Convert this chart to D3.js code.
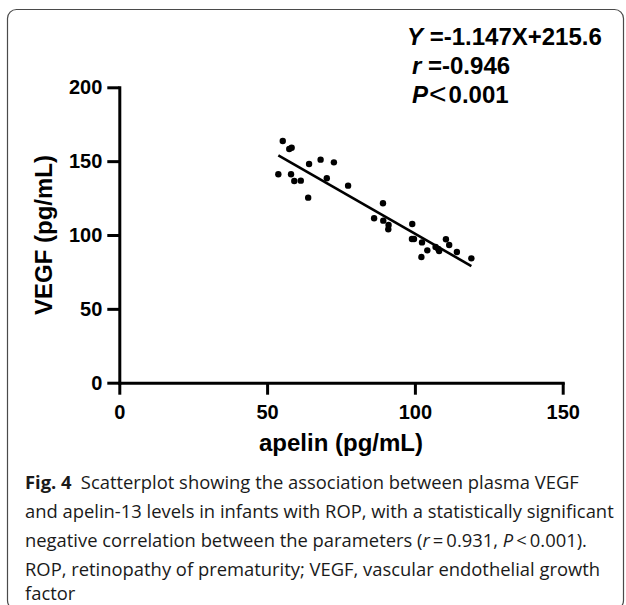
<!DOCTYPE html>
<html><head><meta charset="utf-8">
<script src="https://cdn.jsdelivr.net/npm/d3@7"></script>
<style>body{margin:0;background:#fff;overflow:hidden}</style>
</head><body>
<svg id="c" width="626" height="605"></svg>
<script>
// ---- data ----
const apelin = [55.3, 57.5, 58.3, 53.8, 58.1, 59.2, 61.4, 63.9, 64.2, 68.1, 72.6, 70.2, 77.4,
                86.2, 89.2, 89.3, 91.1, 91.0, 99.1, 99.0, 99.7, 102.4, 102.2, 104.2,
                107.0, 107.9, 108.2, 110.5, 111.6, 114.2, 119.1];
const vegf   = [163.6, 158.2, 159.1, 141.1, 141.1, 136.6, 136.8, 125.3, 148.1, 151.0, 149.2, 138.4, 133.4,
                111.3, 121.5, 109.7, 106.8, 103.9, 107.4, 97.3, 97.3, 95.0, 85.1, 89.6,
                91.9, 90.5, 89.2, 97.1, 93.2, 88.5, 84.2];
const xTicks = [0, 50, 100, 150];
const yTicks = [0, 50, 100, 150, 200];
const fitCoefficients = [-1.147, 215.6]; // slope, intercept
const statsLines = [
  [["Y", "i"], [" =-1.147X+215.6", ""]],
  [["r", "i"], [" =-0.946", ""]],
  [["P", "i"], ["<", "lt"], ["0.001", "after"]]
];
const xLabel = "apelin (pg/mL)";
const yLabel = "VEGF (pg/mL)";
const captionLines = [
  [["Fig. 4", "b"], ["\u2002Scatterplot showing the association between plasma VEGF", ""]],
  [["and apelin-13 levels in infants with ROP, with a statistically significant", ""]],
  [["negative correlation between the parameters (", ""], ["r", "i"], ["\u2009=\u20090.931, ", ""], ["P", "i"], ["\u2009<\u20090.001).", ""]],
  [["ROP, retinopathy of prematurity; VEGF, vascular endothelial growth", ""]],
  [["factor", ""]]
];

// ---- drawing ----
const svg = d3.select("#c");
const AX = "'Liberation Sans', Arial, Helvetica, sans-serif";

svg.append("rect").attr("x", 7.5).attr("y", 9.5).attr("width", 616).attr("height", 600)
  .attr("rx", 9).attr("fill", "none").attr("stroke", "#4a4a4a").attr("stroke-width", 1.2);

const x = d3.scaleLinear().domain([0, 150]).range([119.3, 562.7]);
const y = d3.scaleLinear().domain([0, 200]).range([382.7, 87.3]);

const gx = svg.append("g").attr("transform", `translate(0,${y(0)})`)
  .call(d3.axisBottom(x).tickValues(xTicks).tickFormat(d3.format("d")).tickSize(12).tickSizeOuter(0).tickPadding(10));
const gy = svg.append("g").attr("transform", `translate(${x(0)},0)`)
  .call(d3.axisLeft(y).tickValues(yTicks).tickFormat(d3.format("d")).tickSize(12).tickSizeOuter(0).tickPadding(5));
[gx, gy].forEach(g => {
  g.select(".domain").attr("stroke", "#000").attr("stroke-width", 3).attr("stroke-linecap", "square");
  g.selectAll(".tick line").attr("stroke", "#000").attr("stroke-width", 3);
  g.selectAll(".tick text").attr("fill", "#000").style("font-family", AX)
    .style("font-size", "20px").style("font-weight", "bold");
});

// regression line
const xr = d3.extent(apelin);
svg.append("line")
  .attr("x1", x(xr[0])).attr("y1", y(fitCoefficients[0] * xr[0] + fitCoefficients[1]))
  .attr("x2", x(xr[1])).attr("y2", y(fitCoefficients[0] * xr[1] + fitCoefficients[1]))
  .attr("stroke", "#000").attr("stroke-width", 2.6);

// points
svg.append("g").selectAll("circle").data(apelin.map((a, i) => [a, vegf[i]])).join("circle")
  .attr("cx", d => x(d[0])).attr("cy", d => y(d[1])).attr("r", 3.2).attr("fill", "#000");

// axis titles
svg.append("text").attr("x", (x(0) + x(150)) / 2).attr("y", 451).attr("text-anchor", "middle")
  .style("font-family", AX).style("font-size", "24px").style("font-weight", "bold").text(xLabel);
svg.append("text").attr("transform", `translate(52,${(y(0) + y(200)) / 2}) rotate(-90)`).attr("text-anchor", "middle")
  .style("font-family", AX).style("font-size", "24px").style("font-weight", "bold").text(yLabel);

// stats annotation
const statsX = [407, 412, 412], statsY = [45, 74, 103];
statsLines.forEach((parts, i) => {
  const t = svg.append("text").attr("x", statsX[i]).attr("y", statsY[i])
    .style("font-family", AX).style("font-size", "24px").style("font-weight", "bold");
  parts.forEach(([s, k]) => {
    const ts = t.append("tspan").text(s);
    if (k === "i") ts.style("font-style", "italic");
    if (k === "lt") ts.style("font-weight", "normal").style("font-size", "30px").attr("dx", 1).attr("dy", 1);
    if (k === "after") ts.attr("dx", 2).attr("dy", -1);
  });
});

// caption
const capY = [489, 518, 547, 575.5, 599.5];
const capFont = "'Open Sans', 'Noto Sans', sans-serif";
const capNodes = captionLines.map((parts, i) => {
  const t = svg.append("text").attr("x", 0).attr("y", 0)
    .style("font-family", capFont).style("font-size", "18px").attr("fill", "#1a1a1a");
  parts.forEach(([s, k]) => {
    const ts = t.append("tspan").text(s);
    if (k === "b") ts.style("font-weight", "bold");
    if (k === "i") ts.style("font-style", "italic");
  });
  return t;
});
const sx = 589 / capNodes[1].node().getComputedTextLength();
capNodes.forEach((t, i) => t.attr("transform", `translate(25,${capY[i]}) scale(${sx},1)`));
</script>
</body></html>
